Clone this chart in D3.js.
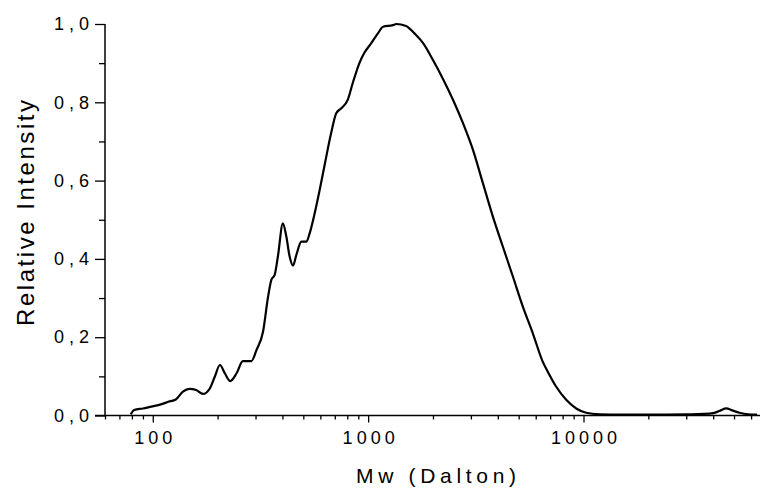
<!DOCTYPE html>
<html>
<head>
<meta charset="utf-8">
<script src="https://cdn.jsdelivr.net/npm/d3@7"></script>
<style>
  body { margin: 0; background: #fff; }
  svg { display: block; }
  text { font-family: "Liberation Sans", Arial, sans-serif; fill: #000; }
</style>
</head>
<body>
<svg id="chart" width="760" height="490"></svg>
<script>

/* Molecular weight (Dalton) */
var mw = [79, 82, 90, 97, 110, 118, 128, 138, 148, 159, 171, 184, 194, 205, 216, 229,
  245, 262, 287, 303, 325, 343, 355, 368, 381, 402, 417, 432, 448, 464, 490, 517,
  535, 565, 595, 628, 673, 711, 751, 804, 847, 909, 962, 1034, 1110, 1173, 1304,
  1350, 1500, 1640, 1800, 2000, 2220, 2480, 2760, 3070, 3400, 3795, 4224,
  4700, 5228, 5816, 6472, 6825, 7460, 8310, 9250, 10300, 11870, 15000, 20000,
  30000, 36000, 40000, 43000, 46000, 49000, 53000, 58000, 64000];

/* Relative intensity at each mw */
var intensity = [0.003, 0.014, 0.018, 0.022, 0.029, 0.035, 0.041, 0.061, 0.068, 0.065,
  0.055, 0.069, 0.099, 0.129, 0.108, 0.088, 0.108, 0.139, 0.139, 0.167, 0.214, 0.303,
  0.346, 0.359, 0.406, 0.491, 0.457, 0.406, 0.383, 0.410, 0.444, 0.444, 0.465, 0.517,
  0.575, 0.640, 0.721, 0.772, 0.785, 0.806, 0.848, 0.899, 0.927, 0.951, 0.976, 0.993,
  0.997, 1.0, 0.995, 0.976, 0.951, 0.908, 0.861, 0.806, 0.746, 0.678, 0.596,
  0.508, 0.431, 0.355, 0.278, 0.210, 0.137, 0.112, 0.074, 0.040, 0.018, 0.007, 0.003,
  0.002, 0.002, 0.003, 0.004, 0.006, 0.012, 0.018, 0.013, 0.007, 0.003, 0.002];

/* Tick values */
var xMajor = [100, 1000, 10000];
var xMinor = [60, 70, 80, 90, 200, 300, 400, 500, 600, 700, 800, 900,
  2000, 3000, 4000, 5000, 6000, 7000, 8000, 9000, 20000, 30000, 40000, 50000, 60000];
var yMajor = [0, 0.2, 0.4, 0.6, 0.8, 1.0];
var yMinor = [0.1, 0.3, 0.5, 0.7, 0.9];

var svg = d3.select("#chart");

var x = d3.scaleLog().domain([60, 66000]).range([105, 760]),
    y = d3.scaleLinear().domain([0, 1]).range([415.5, 24]);

function fmtY(d) {
  return d3.format(".1f")(d).replace(".", ",");
}

/* X axis: minor ticks, then major ticks with labels */
var gx = svg.append("g").attr("transform", "translate(0," + y(0) + ")");

gx.append("g")
  .call(d3.axisBottom(x).tickValues(xMinor).tickSize(4).tickFormat(""));

var gxMajor = gx.append("g")
  .call(d3.axisBottom(x).tickValues(xMajor).tickSize(7).tickPadding(9).tickFormat(d3.format("d")));

gxMajor.selectAll("text")
  .attr("font-size", 18)
  .attr("dx", 2)
  .style("letter-spacing", "4px");

gx.selectAll(".domain").remove();
gx.append("line")
  .attr("x1", 95).attr("x2", 760)
  .attr("stroke", "#000").attr("stroke-width", 1.5);

/* Y axis */
var gy = svg.append("g").attr("transform", "translate(" + x(60) + ",0)");

gy.append("g")
  .call(d3.axisLeft(y).tickValues(yMinor).tickSize(6).tickFormat(""));

var gyMajor = gy.append("g")
  .call(d3.axisLeft(y).tickValues(yMajor).tickSize(10).tickPadding(6).tickFormat(fmtY));

gyMajor.selectAll("text")
  .attr("font-size", 18)
  .attr("textLength", 35)
  .attr("lengthAdjust", "spacing");

gy.selectAll(".domain").remove();
gy.append("line")
  .attr("y1", y(0)).attr("y2", y(1))
  .attr("stroke", "#000").attr("stroke-width", 1.5);

svg.selectAll(".tick line").attr("stroke", "#000").attr("stroke-width", 1.3);

/* Curve */
var points = mw.map(function(m, i) { return [m, intensity[i]]; });

var line = d3.line()
  .x(function(d) { return x(d[0]); })
  .y(function(d) { return y(d[1]); })
  .curve(d3.curveMonotoneX);

svg.append("path")
  .datum(points)
  .attr("d", line)
  .attr("fill", "none")
  .attr("stroke", "#000")
  .attr("stroke-width", 2.2)
  .attr("stroke-linejoin", "round");

/* Axis titles */
svg.append("text")
  .attr("x", 436)
  .attr("y", 483)
  .attr("text-anchor", "middle")
  .attr("font-size", 21)
  .attr("textLength", 160)
  .attr("lengthAdjust", "spacing")
  .text("Mw (Dalton)");

svg.append("text")
  .attr("transform", "translate(34,213) rotate(-90)")
  .attr("text-anchor", "middle")
  .attr("font-size", 24)
  .attr("textLength", 226)
  .attr("lengthAdjust", "spacing")
  .text("Relative Intensity");

</script>
</body>
</html>
